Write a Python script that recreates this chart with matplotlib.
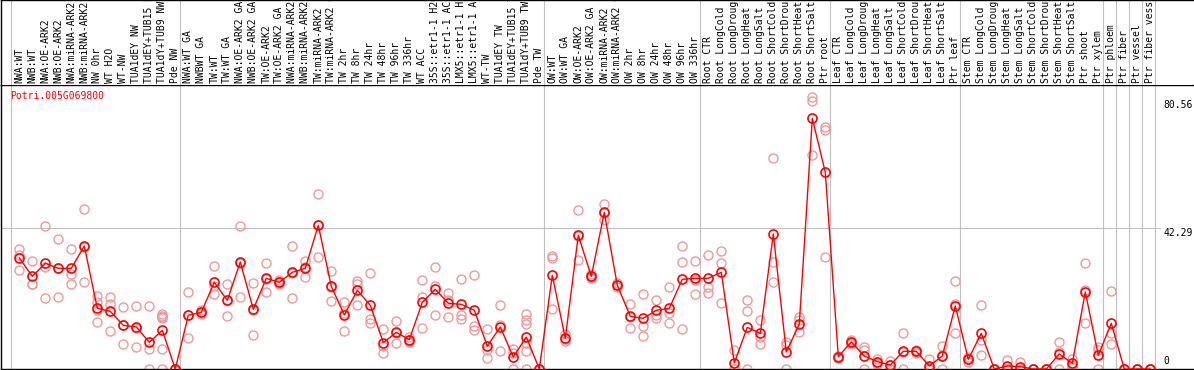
import matplotlib
matplotlib.use("Agg")
import matplotlib.pyplot as plt

# sample labels, in plot order
labels = [
    "NWA:WT", "NWB:WT", "NWA:OE-ARK2", "NWB:OE-ARK2", "NWA:miRNA-ARK2", "NWB:miRNA-ARK2",
    "NW 0hr", "WT H2O", "WT-NW", "TUA1dEY NW", "TUA1dEY+TUB15 NW", "TUA1dY+TUB9 NW", "Pde NW",
    "NWA:WT GA", "NWBWT GA", "TW:WT", "TW:WT GA", "NWA:OE-ARK2 GA", "NWB:OE-ARK2 GA",
    "TW:OE-ARK2", "TW:OE-ARK2 GA", "NWA:miRNA-ARK2 GA", "NWB:miRNA-ARK2 GA", "TW:miRNA-ARK2",
    "TW:miRNA-ARK2 GA", "TW 2hr", "TW 8hr", "TW 24hr", "TW 48hr", "TW 96hr", "TW 336hr",
    "WT ACC", "35S::etr1-1 H2O", "35S::etr1-1 ACC", "LMX5::etr1-1 H2O", "LMX5::etr1-1 ACC",
    "WT-TW", "TUA1dEY TW", "TUA1dEY+TUB15 TW", "TUA1dY+TUB9 TW", "Pde TW",
    "OW:WT", "OW:WT GA", "OW:OE-ARK2", "OW:OE-ARK2 GA", "OW:miRNA-ARK2", "OW:miRNA-ARK2 GA",
    "OW 2hr", "OW 8hr", "OW 24hr", "OW 48hr", "OW 96hr", "OW 336hr",
    "Root CTR", "Root LongCold", "Root LongDrought", "Root LongHeat", "Root LongSalt",
    "Root ShortCold", "Root ShortDrought", "Root ShortHeat", "Root ShortSalt", "Ptr root",
    "Leaf CTR", "Leaf LongCold", "Leaf LongDrought", "Leaf LongHeat", "Leaf LongSalt",
    "Leaf ShortCold", "Leaf ShortDrought", "Leaf ShortHeat", "Leaf ShortSalt", "Ptr leaf",
    "Stem CTR", "Stem LongCold", "Stem LongDrought", "Stem LongHeat", "Stem LongSalt",
    "Stem ShortCold", "Stem ShortDrought", "Stem ShortHeat", "Stem ShortSalt",
    "Ptr shoot", "Ptr xylem", "Ptr phloem", "Ptr fiber", "Ptr vessel", "Ptr fiber vessel",
]

# group boundaries (index of first sample after each separator)
group_breaks = [0, 13, 41, 53, 63, 73, 84, 85, 86, 87, 88]

# mean expression per sample
means = [
    33.3, 27.8, 31.7, 30.2, 30.2, 36.9, 18.2, 17.3, 13.1, 12.6, 8.0, 11.6, 0.0,
    16.1, 17.0, 26.0, 20.6, 32.1, 17.9, 27.2, 26.0, 29.0, 30.2, 43.1, 24.8, 16.2,
    23.6, 19.1, 7.9, 11.0, 8.8, 20.0, 23.9, 19.7, 19.4, 17.6, 6.9, 12.6, 3.6, 9.6, 0.0,
    28.1, 9.2, 40.1, 27.8, 47.0, 25.1, 15.8, 15.2, 17.6, 18.2, 26.9, 27.2,
    27.2, 29.0, 1.8, 12.5, 10.7, 40.5, 5.1, 13.5, 75.2, 59.0,
    3.7, 8.1, 3.9, 2.2, 1.2, 5.3, 5.3, 0.9, 3.9, 18.9,
    2.9, 10.7, 0.0, 0.9, 0.7, 0.0, 0.0, 4.5, 1.7, 23.1, 4.1,
    13.7, 0.0, 0.0, 0.0,
]

# individual replicates per sample
replicates = [
    [35.9, 34.3, 29.7], [32.3, 25.6, 25.5], [42.8, 30.7, 21.3], [38.9, 30.2, 21.5],
    [35.9, 28.6, 25.4], [47.9, 36.7, 26.1], [21.9, 20.0, 17.7, 14.0], [21.6, 19.4, 11.3],
    [18.6, 13.2, 7.5], [18.9, 12.4, 6.5], [18.9, 5.9, 0.0], [16.4, 16.0, 15.6, 15.2, 5.9, 0.0],
    [0.0, 0.0, 0.0],
    [23.0, 16.1, 9.2], [17.6, 17.0, 16.4], [30.8, 24.8, 22.4], [25.4, 20.6, 15.8],
    [42.9, 31.9, 21.5], [25.7, 17.8, 10.2], [31.7, 26.9, 23.0], [26.6, 26.0, 25.4],
    [36.9, 28.8, 21.3], [32.4, 30.5, 27.7], [52.5, 43.3, 33.5], [29.3, 24.7, 20.4],
    [20.1, 16.9, 11.4], [26.3, 25.5, 19.3], [28.8, 15.0, 13.7], [12.0, 6.9, 4.8],
    [14.3, 10.9, 7.8], [9.6, 8.8, 8.2], [26.7, 21.7, 12.3], [30.5, 24.9, 16.2],
    [22.8, 20.7, 15.6], [27.0, 16.2, 14.9], [28.1, 13.0, 11.7], [11.9, 5.7, 3.2],
    [19.1, 13.1, 5.3], [6.0, 4.8, 0.0], [16.5, 14.7, 13.4, 7.7, 5.3, 0.0], [0.0, 0.0, 0.0],
    [33.9, 33.3, 18.0], [10.5, 8.9, 8.3], [47.7, 40.0, 32.7], [28.5, 27.8, 27.2],
    [49.5, 46.8, 44.7], [25.9, 25.1, 24.5], [19.5, 15.7, 12.2], [22.5, 13.0, 10.0],
    [20.7, 16.2, 15.4], [24.5, 16.7, 13.7], [36.9, 32.0, 12.0], [32.3, 26.8, 22.5],
    [34.2, 24.7, 22.7], [35.3, 31.7, 19.7], [5.7, 0.0, 0.0], [20.6, 17.4, 0.0],
    [14.7, 9.7, 7.4], [63.2, 32.0, 26.1], [8.2, 7.2, 0.0], [15.7, 14.7, 11.0],
    [81.5, 80.5, 64.1], [72.7, 71.7, 33.5],
    [4.0, 3.7, 3.4], [8.7, 8.1, 7.5], [6.7, 5.7, 0.0], [2.9, 2.2, 1.5], [2.4, 1.2, 0.0],
    [10.7, 5.2, 0.0], [5.7, 5.3, 4.9], [2.9, 0.0, 0.0], [6.9, 4.2, 0.0], [26.4, 19.6, 10.7],
    [3.6, 2.9, 2.2], [19.1, 8.7, 4.2], [0.0, 0.0, 0.0], [2.7, 0.0, 0.0], [2.1, 0.0, 0.0],
    [0.0, 0.0, 0.0], [0.0, 0.0, 0.0], [8.2, 5.2, 0.0], [3.1, 1.3, 0.7], [31.7, 23.7, 13.7],
    [6.6, 5.7, 0.0], [23.3, 10.7, 7.4], [0.0, 0.0, 0.0], [0.0, 0.0, 0.0], [0.0, 0.0, 0.0],
]

gene = "Potri.005G069800"
y_ticks = [80.56, 42.29, 0]

W, H = 1194, 370
mono = "DejaVu Sans Mono"
fs = 7
gray = "#c0c0c0"
pink = "#ee9a9a"

fig = plt.figure(figsize=(W / 100, H / 100), dpi=100)

# main plot area: x pixels 1..1193, y pixels 85..369
ax = fig.add_axes([1 / W, 1 / H, 1192 / W, 284 / H])
x0 = (1 - 19.3) / 13
x1 = (1193 - 19.3) / 13
ax.set_xlim(x0, x1)
ax.set_ylim(0, 85.18)

for b in group_breaks:
    ax.axvline(b - 0.66, color=gray, lw=0.8, zorder=1)
xg = (1160 - 19.3) / 13
ax.plot([x0, xg], [y_ticks[1], y_ticks[1]], color=gray, lw=0.8, zorder=1)

for i, reps in enumerate(replicates):
    ax.plot([i] * len(reps), reps, linestyle="none", marker="o", ms=6.5,
            mfc="none", mec=pink, mew=1.0, zorder=2)

xs = list(range(len(means)))
ax.plot(xs, means, color="red", lw=1, marker="o", ms=6.5, mfc="none",
        mec="red", mew=1.2, zorder=3)

ax.text(0.0075, 0.961, gene, color="red", family=mono, fontsize=fs,
        transform=ax.transAxes, ha="left", va="center")

xt = (1163 - 19.3) / 13
ax.text(xt, y_ticks[0], f"{y_ticks[0]:.2f}", family=mono, fontsize=fs, ha="left", va="top")
ax.text(xt, y_ticks[1], f"{y_ticks[1]:.2f}", family=mono, fontsize=fs, ha="left", va="top")
ax.text(xt, 1.0, "0", family=mono, fontsize=fs, ha="left", va="bottom")

ax.set_xticks([])
ax.set_yticks([])
ax.spines["right"].set_visible(False)
for s in ["left", "bottom", "top"]:
    ax.spines[s].set_color("black")
    ax.spines[s].set_linewidth(1.0)

# label strip on top
lax = fig.add_axes([1 / W, 285 / H, 1192 / W, 85 / H])
lax.set_xlim(x0, x1)
lax.set_ylim(85, 0)
for b in group_breaks:
    lax.axvline(b - 0.66, color=gray, lw=0.8)
for i, lab in enumerate(labels):
    lax.text(i, 83, lab, rotation=90, family=mono, fontsize=fs,
             ha="center", va="bottom")
lax.set_xticks([])
lax.set_yticks([])
lax.spines["right"].set_visible(False)
lax.spines["bottom"].set_visible(False)
lax.spines["top"].set_linewidth(1.0)
lax.spines["left"].set_linewidth(1.0)

fig.savefig("out.png", dpi=100)
